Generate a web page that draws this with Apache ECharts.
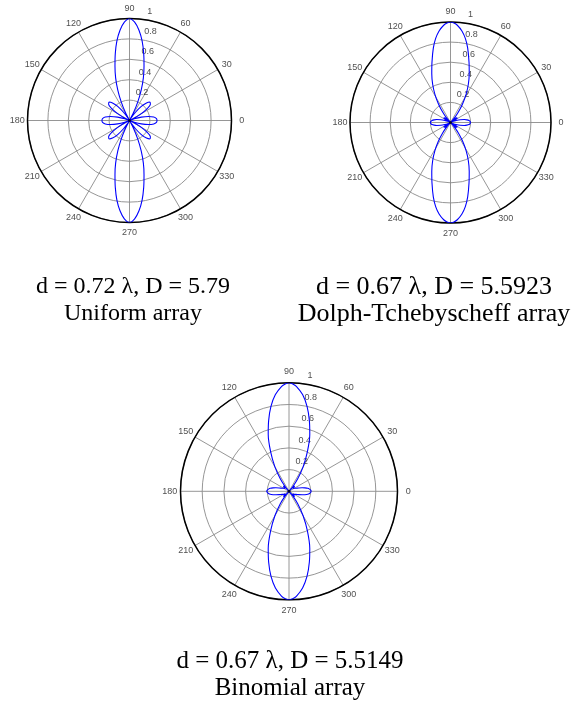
<!DOCTYPE html>
<html lang="en">
<head>
    <meta charset="UTF-8">
    <title>Array patterns</title>
    <script src="https://cdn.jsdelivr.net/npm/echarts@6/dist/echarts.min.js"></script>
    <style>
        html, body { margin: 0; padding: 0; background: #fff; }
        #chart { width: 582px; height: 710px; }
    </style>
</head>
<body>
    <div id="chart"></div>
    <script>
        // tick labels
        var angleTicks = [0, 30, 60, 90, 120, 150, 180, 210, 240, 270, 300, 330];
        var radiusTicks = [0.2, 0.4, 0.6, 0.8, 1];

        // one quadrant (0..90 deg) of each pattern; the rest is mirrored
        var uniformAngles = [0, 4, 8, 12, 16, 20, 23, 26, 30, 34, 38, 42, 46, 50, 54, 58, 61, 63, 66, 69, 72, 75, 78, 81, 84, 87, 90];
        var uniformGain   = [0.27, 0.265, 0.24, 0.19, 0.12, 0.05, 0, 0.05, 0.13, 0.21, 0.26, 0.27, 0.24, 0.18, 0.10, 0.03, 0, 0.09, 0.20, 0.32, 0.44, 0.55, 0.67, 0.79, 0.89, 0.965, 1];

        var dolphAngles = [0, 3, 6, 9, 12, 16, 20, 24, 27, 30, 34, 38, 42, 45, 49, 53, 57, 61, 65, 69, 73, 77, 80, 83, 86, 88, 90];
        var dolphGain   = [0.20, 0.195, 0.185, 0.165, 0.14, 0.10, 0.06, 0.03, 0, 0.05, 0.08, 0.075, 0.04, 0, 0.06, 0.13, 0.22, 0.32, 0.42, 0.52, 0.63, 0.76, 0.85, 0.92, 0.97, 0.99, 1];

        var binomialAngles = [0, 3, 6, 9, 12, 15, 19, 24, 30, 36, 40, 43, 46, 48, 51, 55, 60, 65, 70, 74, 78, 82, 86, 88, 90];
        var binomialGain   = [0.205, 0.20, 0.19, 0.175, 0.15, 0.125, 0.095, 0.07, 0.055, 0.045, 0.06, 0.07, 0.05, 0, 0.06, 0.14, 0.26, 0.40, 0.56, 0.68, 0.80, 0.90, 0.97, 0.99, 1];

        var captions = [
            ['d = 0.72 \u03bb, D = 5.79', 'Uniform array'],
            ['d = 0.67 \u03bb, D = 5.5923', 'Dolph-Tchebyscheff array'],
            ['d = 0.67 \u03bb, D = 5.5149', 'Binomial array']
        ];

        // where each polar plot sits (the three panels are not quite the same scale)
        var plots = [
            { cx: 129.5, cy: 120.5, r: 102, angles: uniformAngles, gain: uniformGain, tx: 133, ty: 287, fs: 24 },
            { cx: 450.5, cy: 122.5, r: 100.5, angles: dolphAngles, gain: dolphGain, tx: 434, ty: 287, fs: 26 },
            { cx: 289, cy: 491.3, r: 108.5, angles: binomialAngles, gain: binomialGain, tx: 290, ty: 661, fs: 25 }
        ];

        function fullPattern(angles, gain) {
            var n = angles.length, pts = [], i;
            for (i = 0; i < n; i++) pts.push([gain[i], angles[i]]);
            for (i = n - 2; i >= 0; i--) pts.push([gain[i], 180 - angles[i]]);
            for (i = 1; i < n; i++) pts.push([gain[i], 180 + angles[i]]);
            for (i = n - 2; i >= 0; i--) pts.push([gain[i], 360 - angles[i]]);
            return pts;
        }

        var gridColor = '#8a8a8a';
        var labelFont = 'Liberation Sans';
        var polar = [], angleAxis = [], radiusAxis = [], series = [], graphic = [];

        plots.forEach(function (p, k) {
            polar.push({ center: [p.cx, p.cy], radius: p.r });
            angleAxis.push({
                polarIndex: k, type: 'value', min: 0, max: 360, interval: 30,
                startAngle: 0, clockwise: false,
                axisLine: { lineStyle: { color: '#000', width: 1.5 } },
                axisTick: { show: false },
                axisLabel: { show: false },
                splitLine: { lineStyle: { color: gridColor, width: 0.9 } }
            });
            radiusAxis.push({
                polarIndex: k, type: 'value', min: 0, max: 1, interval: 0.2,
                axisLine: { show: false }, axisTick: { show: false }, axisLabel: { show: false },
                splitLine: { lineStyle: { color: gridColor, width: 0.9 } }
            });

            // the pattern itself
            series.push({
                type: 'line', coordinateSystem: 'polar', polarIndex: k,
                data: fullPattern(p.angles, p.gain),
                showSymbol: false, smooth: 0.3, animation: false, z: 3,
                lineStyle: { color: '#0000ff', width: 1.1 }
            });

            // origin dot
            series.push({
                type: 'scatter', coordinateSystem: 'polar', polarIndex: k, silent: true,
                symbolSize: 3, itemStyle: { color: '#000' }, z: 4, animation: false,
                data: [[0, 0]]
            });

            // angle labels, centred at 1.1 R like matlab's polar()
            series.push({
                type: 'scatter', coordinateSystem: 'polar', polarIndex: k, clip: false,
                symbolSize: 1, itemStyle: { color: 'rgba(0,0,0,0)' }, silent: true, animation: false,
                data: angleTicks.map(function (a) { return [1.1, a]; }),
                label: {
                    show: true, position: 'inside', color: '#222', fontSize: 9, fontFamily: labelFont,
                    formatter: function (d) { return String(d.value[1]); }
                }
            });

            // radius labels along the 82 deg ray
            series.push({
                type: 'scatter', coordinateSystem: 'polar', polarIndex: k, clip: false,
                symbolSize: 1, itemStyle: { color: 'rgba(0,0,0,0)' }, silent: true, animation: false,
                data: radiusTicks.map(function (r) { return [r, 82]; }),
                label: {
                    show: true, position: [4, -12], color: '#222', fontSize: 9, fontFamily: labelFont,
                    formatter: function (d) { return String(d.value[0]); }
                }
            });

            captions[k].forEach(function (line, j) {
                graphic.push({
                    type: 'text', x: p.tx, y: p.ty + j * 27,
                    style: {
                        text: line, align: 'center', verticalAlign: 'middle',
                        font: p.fs + 'px "Liberation Serif"', fill: '#000'
                    }
                });
            });
        });

        var chart = echarts.init(document.getElementById('chart'));
        chart.setOption({
            animation: false,
            polar: polar,
            angleAxis: angleAxis,
            radiusAxis: radiusAxis,
            series: series,
            graphic: graphic
        });
    </script>
</body>
</html>
